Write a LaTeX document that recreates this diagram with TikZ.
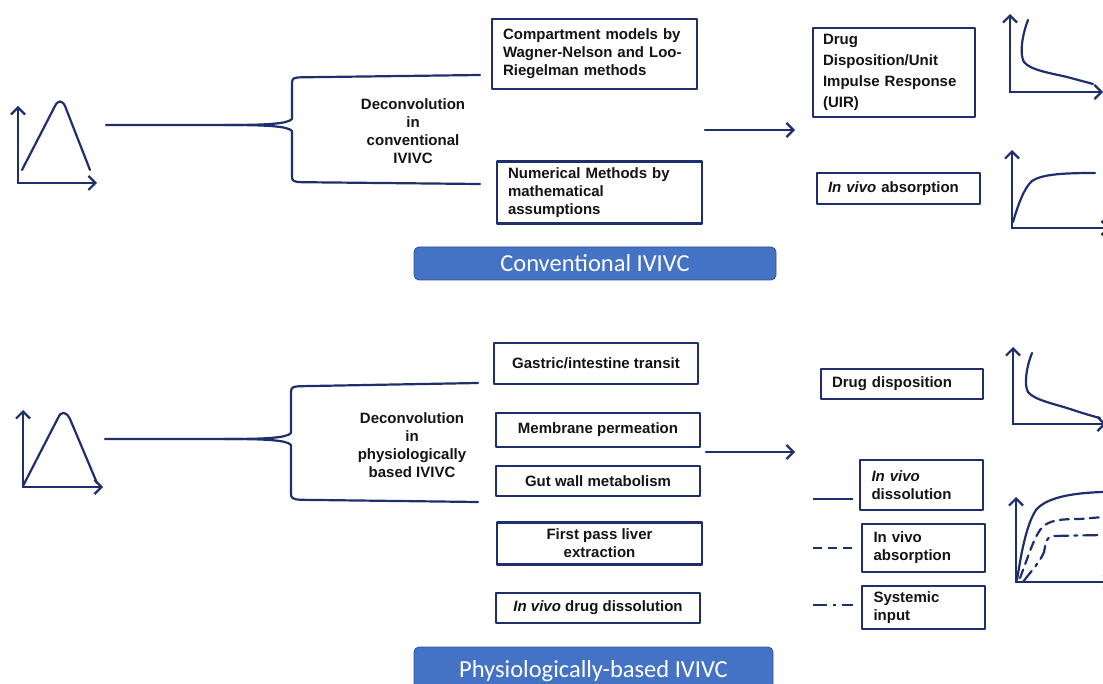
\documentclass[tikz,border=0pt]{standalone}
\usepackage{fontspec}
\setmainfont{Liberation Sans}
\newfontfamily\calfont{Carlito}
\usetikzlibrary{arrows.meta}
\definecolor{navy}{RGB}{31,47,110}
\definecolor{btnblue}{RGB}{68,114,196}
\definecolor{btnedge}{RGB}{47,82,143}
\definecolor{ink}{RGB}{20,20,20}
\begin{document}
\begin{tikzpicture}[x=1pt,y=-1pt,line cap=round,line join=round,
  box/.style={draw=navy, line width=2.9pt, fill=white, inner sep=0pt, text=ink,
    font=\bfseries\fontsize{15}{18}\selectfont},
  conn/.style={draw=navy, line width=2.2pt},
  arr/.style={conn, -{Straight Barb[length=7pt,width=14pt]}},
  curve/.style={draw=navy, line width=2.2pt},
  btn/.style={draw=btnedge, line width=0.8pt, fill=btnblue, rounded corners=5pt, text=white,
    font=\calfont\fontsize{24.5}{28}\selectfont, text height=15.8pt, text depth=0pt, inner sep=0pt},
  lbl/.style={text=ink, align=center, font=\bfseries\fontsize{15}{18}\selectfont}]
\useasboundingbox (0,0) rectangle (1103,684);

% ---------------- top section ----------------
\coordinate (o1) at (18,183);
\draw[arr] (o1) -- (18,106);
\draw[arr] (o1) -- (97,183);
\draw[curve] (22,170) -- (55,106) .. controls (58,100) and (62,100) .. (65,106) -- (90,170);

\coordinate (t0) at (106,125);
\coordinate (ts) at (225,125);
\coordinate (tb1) at (480,75);
\coordinate (tb2) at (480,184);
\draw[conn] (t0) -- (ts) .. controls (265,125) and (288,124) .. (292,119) -- (292,83)
  .. controls (292,78) and (294,77.5) .. (302,77.3) -- (tb1);
\draw[conn] (ts) .. controls (265,125) and (288,126) .. (292,131) -- (292,177)
  .. controls (292,181) and (294,182) .. (302,182.2) -- (tb2);
\node[lbl] (dc1) at (413,131) {Deconvolution\\in\\conventional\\IVIVC};

\node[box, minimum width=205, minimum height=70, text width=183, align=left] (cm) at (594.5,54)
  {Compartment models by\\Wagner-Nelson and Loo-\\Riegelman methods};
\node[box, minimum width=205, minimum height=62, text width=183, align=left] (nm) at (599.5,192.5)
  {Numerical Methods by\\mathematical\\assumptions};

\coordinate (a1s) at (705,130);
\coordinate (a1e) at (795,130);
\draw[arr] (a1s) -- (a1e);

\node[box, minimum width=162, minimum height=89, text width=142, align=left,
  font=\bfseries\fontsize{15}{21}\selectfont] (uir) at (894,72.5)
  {Drug\\Disposition/Unit\\Impulse Response\\(UIR)};
\node[box, minimum width=163, minimum height=31, text width=141, align=left] (abs1) at (898.5,188.5)
  {\textit{In vivo} absorption};

\coordinate (o2) at (1010,92);
\draw[arr] (o2) -- (1010,14);
\draw[arr] (o2) -- (1103,92);
\draw[curve] (1028,20) .. controls (1021,38) and (1020,56) .. (1024,62)
  .. controls (1030,70) and (1050,73) .. (1067,77) .. controls (1078,80) and (1086,82) .. (1093,84);

\coordinate (o3) at (1012,228);
\draw[arr] (o3) -- (1012,150);
\draw[arr] (o3) -- (1110,228);
\draw[curve] (1013,222) .. controls (1018,205) and (1024,188) .. (1032,181)
  .. controls (1042,174) and (1065,173) .. (1095,173);

\node[btn, minimum width=362, minimum height=33] (conv) at (595,263.5) {Conventional IVIVC};

% ---------------- bottom section ----------------
\coordinate (o4) at (23,487);
\draw[arr] (o4) -- (23,410);
\draw[arr] (o4) -- (103,487);
\draw[curve] (23,486) -- (58,418) .. controls (61,411) and (66,411) .. (70,419) -- (97,483);

\coordinate (b0) at (105,439);
\coordinate (bs) at (225,439);
\coordinate (bb1) at (478,383);
\coordinate (bb2) at (478,502);
\draw[conn] (b0) -- (bs) .. controls (265,439) and (287,438) .. (291,433) -- (291,392)
  .. controls (291,387) and (293,386.5) .. (301,386.2) -- (bb1);
\draw[conn] (bs) .. controls (265,439) and (287,440) .. (291,445) -- (291,494)
  .. controls (291,498) and (293,499.5) .. (301,499.8) -- (bb2);
\node[lbl] (dc2) at (412,445) {Deconvolution\\in\\physiologically\\based IVIVC};

\node[box, minimum width=204, minimum height=41] (gas) at (596,363.5) {Gastric/intestine transit};
\node[box, minimum width=204, minimum height=34] (mem) at (598,430) {Membrane permeation};
\node[box, minimum width=204, minimum height=30] (gut) at (598,481) {Gut wall metabolism};
\node[box, minimum width=205, minimum height=42, align=center] (fp) at (599.5,543.5)
  {First pass liver\\extraction};
\node[box, minimum width=204, minimum height=30] (ivd) at (598,608) {\textit{In vivo} drug dissolution};

\coordinate (a2s) at (706,452);
\coordinate (a2e) at (795,452);
\draw[arr] (a2s) -- (a2e);

\node[box, minimum width=162, minimum height=30, text width=140, align=left] (dd) at (902,384)
  {Drug disposition};
\node[box, minimum width=123, minimum height=50, text width=100, align=left] (ivdiss) at (921.5,485)
  {\textit{In vivo}\\dissolution};
\node[box, minimum width=123, minimum height=48, text width=100, align=left] (ivabs) at (923.5,548)
  {In vivo\\absorption};
\node[box, minimum width=123, minimum height=43, text width=100, align=left] (sys) at (923.5,607.5)
  {Systemic\\input};

\coordinate (l1a) at (813,499); \coordinate (l1b) at (853,499);
\coordinate (l2a) at (813,548); \coordinate (l2b) at (853,548);
\coordinate (l3a) at (813,605); \coordinate (l3b) at (853,605);
\draw[curve, line cap=butt] (l1a) -- (l1b);
\draw[curve, line cap=butt, dash pattern=on 9pt off 6pt] (l2a) -- (l2b);
\draw[curve, line cap=butt, dash pattern=on 14pt off 6pt on 3pt off 6pt] (l3a) -- (l3b);

\coordinate (o5) at (1013,424);
\draw[arr] (o5) -- (1013,347);
\draw[arr] (o5) -- (1106,424);
\draw[curve] (1032,353) .. controls (1026,368) and (1024,385) .. (1028,392)
  .. controls (1034,400) and (1055,404) .. (1070,409) .. controls (1082,413) and (1092,416) .. (1100,418);

\coordinate (o6) at (1016,582);
\draw[arr] (o6) -- (1016,497);
\draw[arr] (o6) -- (1112,582);
\draw[curve] (1017,580) .. controls (1021,555) and (1026,525) .. (1036,510)
  .. controls (1046,498) and (1070,493) .. (1103,492);
\draw[curve, dash pattern=on 9pt off 6pt] (1020,578) .. controls (1027,560) and (1033,540) .. (1040,530)
  .. controls (1047,520) and (1060,519) .. (1080,519) -- (1103,517);
\draw[curve, dash pattern=on 14pt off 6pt on 3pt off 6pt] (1023,582) .. controls (1032,570) and (1040,562) .. (1044,552)
  .. controls (1046,542) and (1046,537) .. (1053,536) -- (1103,535);

\node[btn, minimum width=359, minimum height=46] (phys) at (593.5,670) {Physiologically-based IVIVC};
\end{tikzpicture}
\end{document}
